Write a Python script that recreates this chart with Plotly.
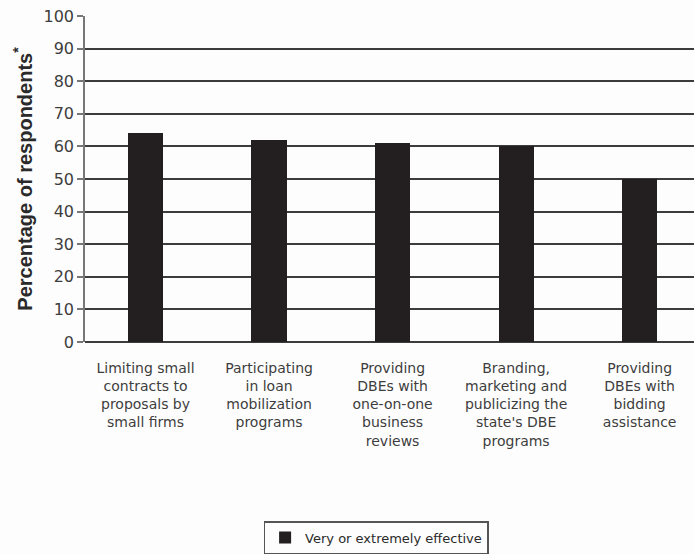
import plotly.graph_objects as go

# Survey results: share of respondents rating each practice as effective
categories = [
    "Limiting small<br>contracts to<br>proposals by<br>small firms",
    "Participating<br>in loan<br>mobilization<br>programs",
    "Providing<br>DBEs with<br>one-on-one<br>business<br>reviews",
    "Branding,<br>marketing and<br>publicizing the<br>state's DBE<br>programs",
    "Providing<br>DBEs with<br>bidding<br>assistance",
]
effective_pct = [64, 62, 61, 60, 50]
series_name = "Very or extremely effective"
y_ticks = list(range(0, 101, 10))

x_pos = list(range(len(categories)))

label_font = "DejaVu Sans, Verdana, sans-serif"
text_grey = "#3d3d3d"

fig = go.Figure()
fig.add_trace(go.Bar(
    x=x_pos,
    y=effective_pct,
    name=series_name,
    width=0.285,
    marker=dict(color="#231f20", line=dict(width=0)),
    showlegend=True,
))

fig.update_layout(
    width=694,
    height=554,
    margin=dict(l=85, r=0, t=16, b=211),
    paper_bgcolor="#fdfdfd",
    plot_bgcolor="#fdfdfd",
    font=dict(family=label_font, size=14, color=text_grey),
    bargap=0,
    showlegend=True,
    legend=dict(
        orientation="h",
        x=0.478,
        xanchor="center",
        y=-0.55,
        yanchor="top",
        bordercolor="#555555",
        borderwidth=1.5,
        bgcolor="#fdfdfd",
        font=dict(family=label_font, size=13, color="#2a2a2a"),
        itemwidth=30,
        itemsizing="constant",
        tracegroupgap=0,
    ),
)

fig.update_xaxes(
    range=[-0.49, 4.44],
    tickmode="array",
    tickvals=x_pos,
    ticktext=categories,
    showgrid=False,
    showline=False,
    zeroline=False,
    ticks="outside",
    ticklen=13,
    tickcolor="rgba(0,0,0,0)",
    tickfont=dict(family=label_font, size=14, color=text_grey),
)

fig.update_yaxes(
    range=[0, 100],
    tickmode="array",
    tickvals=y_ticks,
    showgrid=True,
    gridcolor="#3c3c3c",
    gridwidth=1.5,
    zeroline=True,
    zerolinecolor="#3c3c3c",
    zerolinewidth=1.5,
    showline=True,
    linecolor="#777777",
    linewidth=1.5,
    ticks="outside",
    ticklen=6,
    tickcolor="#777777",
    tickwidth=1.5,
    tickfont=dict(family=label_font, size=16, color=text_grey),
    title=dict(
        text="<b>Percentage of respondents<sup>*</sup></b>",
        font=dict(family="Liberation Sans, Arial, sans-serif", size=20, color="#2a2a2a"),
        standoff=6,
    ),
)

fig.write_html("out.html")
